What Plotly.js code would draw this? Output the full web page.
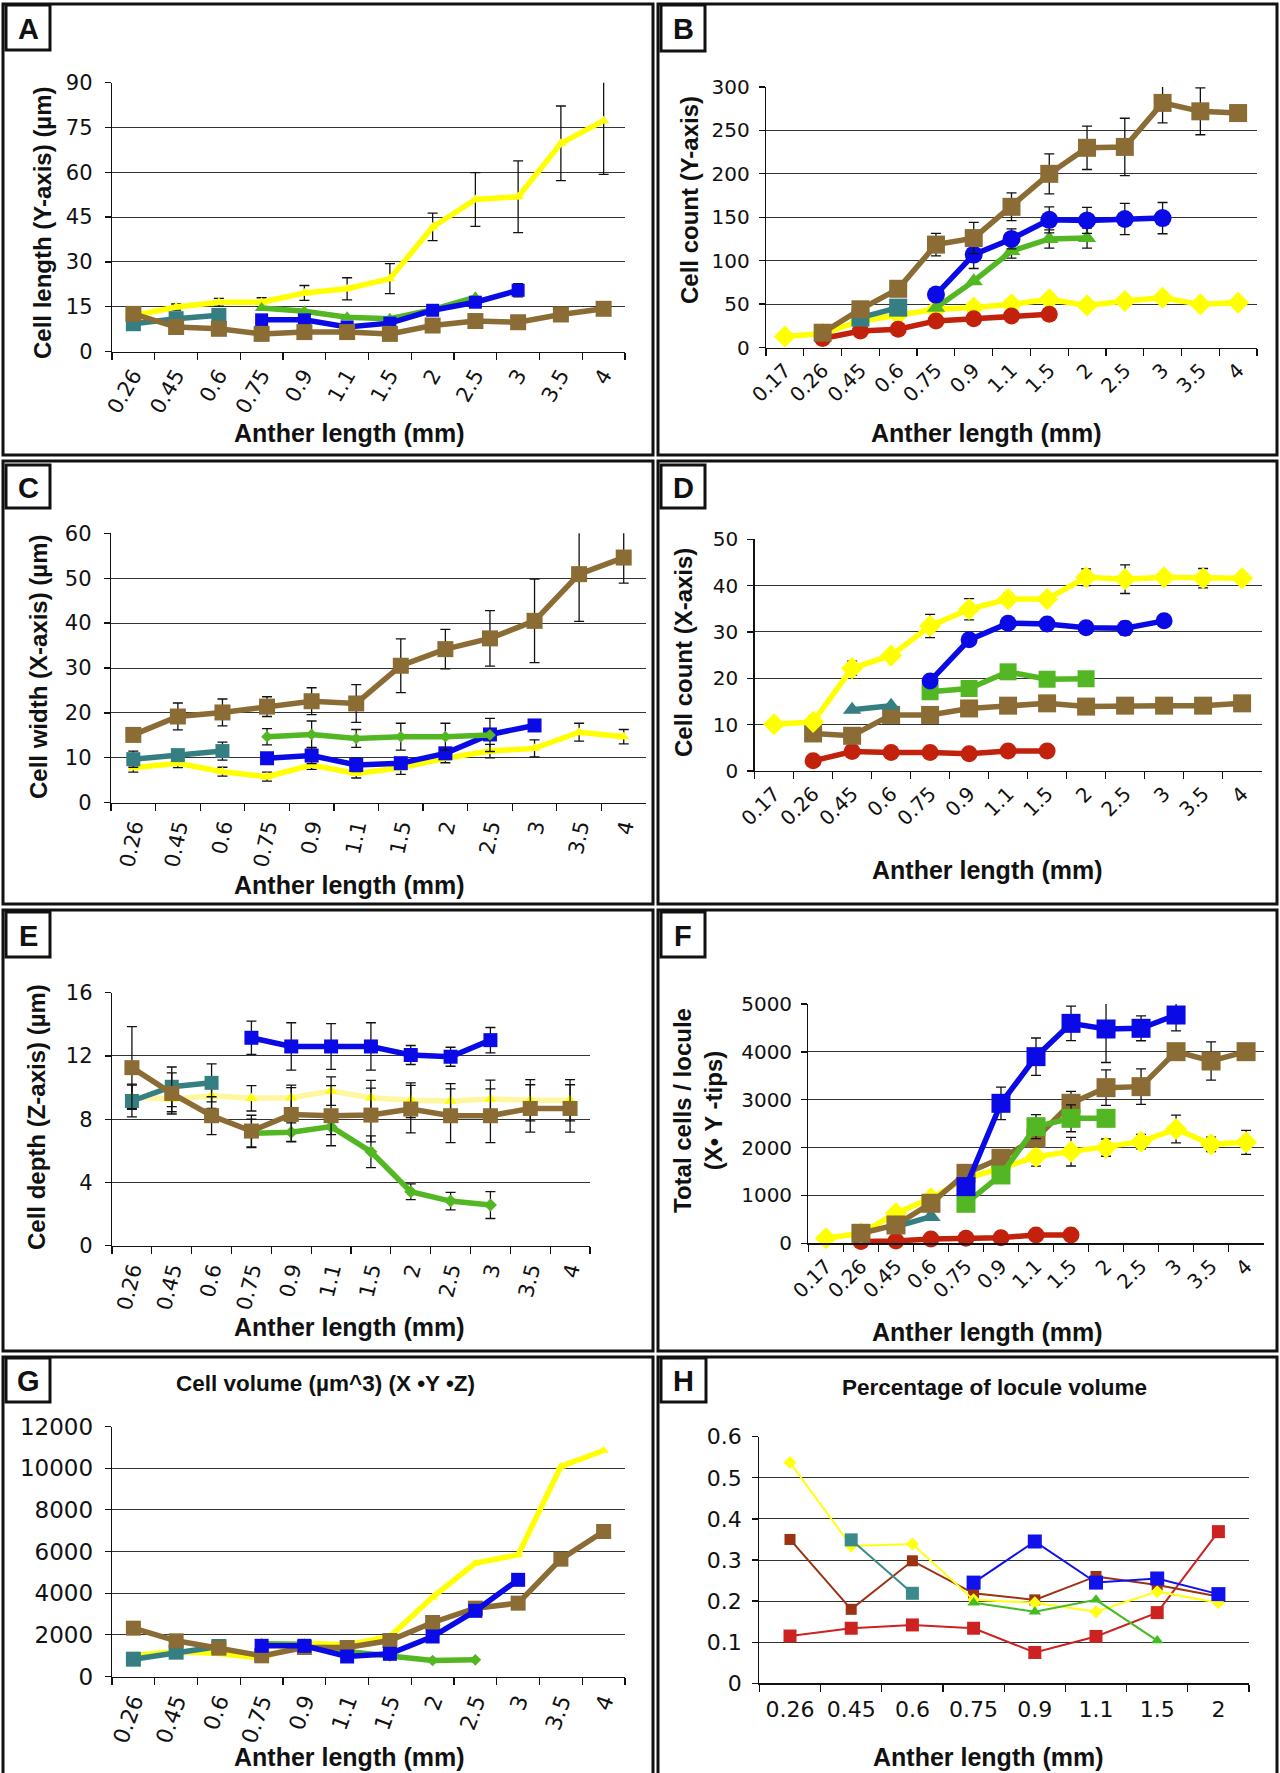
<!DOCTYPE html>
<html><head><meta charset="utf-8">
<script src="https://cdn.plot.ly/plotly-3.0.1.min.js"></script>
<style>html,body{margin:0;padding:0;background:#fff;} #chart{width:1280px;height:1773px;}</style>
</head><body><div id="chart"></div>
<script>
// ---------- categories (anther length, mm) ----------
const cats12 = ['0.26','0.45','0.6','0.75','0.9','1.1','1.5','2','2.5','3','3.5','4'];
const cats13 = ['0.17','0.26','0.45','0.6','0.75','0.9','1.1','1.5','2','2.5','3','3.5','4'];
const cats8  = ['0.26','0.45','0.6','0.75','0.9','1.1','1.5','2'];

// ---------- A: Cell length (Y-axis) ----------
const A_yellow     = [12, 14.9, 16.5, 16.5, 19.6, 21, 24.4, 41.7, 50.9, 51.8, 69.7, 77.3];
const A_yellow_err = [null, 1, 1.3, 1.5, 2.5, 3.7, 5, 4.6, 9, 12, 12.5, 18];
const A_green      = [null, null, null, 14.6, 13.5, 11.5, 11, 14, 18.2, null, null, null];
const A_blue       = [null, null, null, 10.6, 10.6, 8.2, 9.5, 13.8, 16.5, 20.5, null, null];
const A_blue_err   = [null, null, null, 1, 1.5, 1.2, 1.2, 1.5, 1.5, 2.2, null, null];
const A_teal       = [9.3, 11, 12.1, null, null, null, null, null, null, null, null, null];
const A_brown      = [12.6, 8.2, 7.6, 5.9, 6.5, 6.5, 5.9, 8.7, 10.2, 9.8, 12.4, 14.3];

// ---------- B: Cell count (Y-axis) ----------
const B_yellow     = [12.6, 16, 30.6, 38, 44, 46, 49.7, 55.4, 48.5, 53.5, 57.3, 49.7, 51.6];
const B_yellow_err = [null, null, null, null, null, null, null, 6, null, null, 5, null, null];
const B_red        = [null, 10.3, 19, 21, 30.6, 33.2, 36.3, 38.2, null, null, null, null, null];
const B_teal       = [null, null, 34.4, 45.9, null, null, null, null, null, null, null, null, null];
const B_green      = [null, null, null, null, 45.9, 76.4, 111, 125, 126, null, null, null, null];
const B_green_err  = [null, null, null, null, null, null, 8, 10.5, 11.5, null, null, null, null];
const B_blue       = [null, null, null, null, 61, 107, 125, 147, 146.4, 148, 149, null, null];
const B_blue_err   = [null, null, null, null, null, 16, 11.5, 15, 15, 18, 18, null, null];
const B_brown      = [null, 17, 44, 67.6, 118.5, 126, 162, 200, 230, 231, 281.7, 272, 270];
const B_brown_err  = [null, null, null, null, 13, 18, 16, 23, 25, 33, 23, 27, null];

// ---------- C: Cell width (X-axis) ----------
const C_yellow     = [7.8, 8.8, 6.9, 5.8, 8.4, 6.5, 7.8, 9.9, 11.5, 12.1, 15.7, 14.7];
const C_yellow_err = [1, 1, 1, 1, 1, 1, 1.5, 1, 1.5, 1.9, 2, 1.6];
const C_teal       = [9.7, 10.6, 11.5, null, null, null, null, null, null, null, null, null];
const C_teal_err   = [1.8, null, 2, null, null, null, null, null, null, null, null, null];
const C_blue       = [null, null, null, 9.9, 10.5, 8.4, 8.8, 11, 15.2, 17.2, null, null];
const C_blue_err   = [null, null, null, 1, 1.8, 1.5, 1.2, 1, 1.2, null, null, null];
const C_green      = [null, null, null, 14.7, 15.2, 14.3, 14.7, 14.7, 15.1, null, null, null];
const C_green_err  = [null, null, null, 1.8, 3, 2, 3, 3, 3.7, null, null, null];
const C_brown      = [15.1, 19.2, 20.1, 21.4, 22.6, 22.1, 30.5, 34.2, 36.6, 40.5, 50.9, 54.6];
const C_brown_err  = [null, 3, 3, 2.2, 3, 4.2, 6, 4.4, 6.2, 9.3, 10.5, 5.7];

// ---------- D: Cell count (X-axis) ----------
const D_red        = [null, 2.2, 4.2, 4, 4, 3.7, 4.3, 4.3, null, null, null, null, null];
const D_brown      = [null, 8.1, 7.6, 12.1, 12.1, 13.5, 14.1, 14.6, 13.9, 14.1, 14.1, 14.1, 14.6];
const D_teal       = [null, null, 13.2, 14.1, null, null, null, null, null, null, null, null, null];
const D_green      = [null, null, null, null, 17.1, 17.8, 21.4, 19.8, 19.9, null, null, null, null];
const D_blue       = [null, null, null, null, 19.4, 28.3, 31.9, 31.7, 30.9, 30.8, 32.4, null, null];
const D_blue_err   = [null, null, null, null, null, null, null, null, null, 1.5, null, null, null];
const D_yellow     = [10.1, 10.6, 22.2, 24.9, 31.3, 34.9, 37.1, 37.1, 41.8, 41.4, 41.8, 41.6, 41.6];
const D_yellow_err = [null, 1.2, 1.5, 1, 2.5, 2.3, 1.2, 1, 1.8, 3.1, 1, 2.1, 0.5];

// ---------- E: Cell depth (Z-axis) ----------
const E_yellow     = [9.42, 9.27, 9.49, 9.32, 9.36, 9.78, 9.36, 9.2, 9.15, 9.27, 9.2, 9.2];
const E_yellow_err = [0.8, 0.8, 0.8, 0.8, 0.8, 0.9, 1.1, 1.1, 1.1, 1.2, 1.3, 1.3];
const E_green      = [null, null, null, 7.1, 7.17, 7.53, 5.94, 3.41, 2.82, 2.57, null, null];
const E_green_err  = [null, null, null, 0.9, 0.6, 0.5, 1.0, 0.5, 0.55, 0.85, null, null];
const E_teal       = [9.15, 10.05, 10.3, null, null, null, null, null, null, null, null, null];
const E_teal_err   = [1, 1.25, 1.2, null, null, null, null, null, null, null, null, null];
const E_brown      = [11.26, 9.63, 8.22, 7.25, 8.3, 8.22, 8.26, 8.64, 8.22, 8.22, 8.68, 8.68];
const E_brown_err  = [2.6, 1.3, 1.2, 1.0, 1.7, 1.9, 1.7, 1.5, 1.7, 1.7, 1.5, 1.5];
const E_blue       = [null, null, null, 13.15, 12.6, 12.6, 12.6, 12.06, 11.95, 13.0, null, null];
const E_blue_err   = [null, null, null, 1.05, 1.5, 1.45, 1.5, 0.6, 0.6, 0.8, null, null];

// ---------- F: Total cells / locule ----------
const F_red        = [null, 40, 49, 90, 104, 118, 174, 174, null, null, null, null, null];
const F_teal       = [null, null, 348, 557, null, null, null, null, null, null, null, null, null];
const F_yellow     = [104, 209, 627, 940, 1358, 1567, 1811, 1915, 1999, 2124, 2389, 2068, 2110];
const F_yellow_err = [null, null, null, null, null, null, 200, 300, 180, 150, 290, 150, 250];
const F_brown      = [null, 209, 383, 836, 1462, 1776, 2194, 2925, 3252, 3273, 4004, 3809, 4004];
const F_brown_err  = [null, null, null, null, null, null, null, 250, 370, 370, 170, 400, 130];
const F_green      = [null, null, null, null, 836, 1428, 2437, 2611, 2611, null, null, null, null];
const F_green_err  = [null, null, null, null, null, null, 250, 280, 100, null, null, null, null];
const F_blue       = [null, null, null, null, 1184, 2925, 3900, 4596, 4478, 4492, 4770, null, null];
const F_blue_err   = [null, null, null, null, null, 340, 390, 360, 700, 260, 330, null, null];

// ---------- G: Cell volume ----------
const G_green  = [null, null, null, 1568, 1550, 1200, 992, 768, 800, null, null, null];
const G_yellow = [1000, 1200, 1106, 880, 1600, 1520, 1920, 3808, 5440, 5840, 10080, 10848];
const G_teal   = [832, 1168, 1440, null, null, null, null, null, null, null, null, null];
const G_brown  = [2320, 1712, 1360, 992, 1392, 1392, 1728, 2592, 3280, 3520, 5632, 6960];
const G_blue   = [null, null, null, 1472, 1472, 960, 1088, 1920, 3152, 4640, null, null];

// ---------- H: Percentage of locule volume ----------
const H_red    = [0.115, 0.134, 0.142, 0.134, 0.075, 0.114, 0.172, 0.369];
const H_brown  = [0.35, 0.18, 0.298, 0.219, 0.203, 0.26, 0.239, 0.211];
const H_yellow = [0.537, 0.334, 0.339, 0.203, 0.196, 0.174, 0.223, 0.196];
const H_green  = [null, null, null, 0.196, 0.174, 0.203, 0.104, null];
const H_teal   = [null, 0.349, 0.219, null, null, null, null, null];
const H_blue   = [null, null, null, 0.245, 0.345, 0.245, 0.255, 0.217];

// ---------- styling ----------
const YEL = '#FFFF00', BRN = '#8A6C34', BLU = '#0A0AE6', GRN = '#52B722', TEAL = '#357F82', RED = '#C2210C';
const TICKFONT = 'DejaVu Sans, Verdana, sans-serif';
const TITLEFONT = 'Liberation Sans, Arial, Helvetica, sans-serif';
const W = 1280, H = 1773;
const px = v => v / W;
const py = v => 1 - v / H;
const LW = 5.5;

function errObj(err) {
  if (!err) return {visible: false};
  return {type: 'data', symmetric: true, array: err.map(v => v == null ? NaN : v),
          visible: true, color: '#111', thickness: 1.3, width: 5};
}
function tr(n, cats, y, color, sym, size, lw, err, lineColor) {
  return {
    type: 'scatter', mode: 'lines+markers', x: cats, y: y,
    xaxis: n === 1 ? 'x' : 'x' + n, yaxis: n === 1 ? 'y' : 'y' + n,
    line: {color: lineColor || color, width: lw},
    marker: {symbol: sym, size: size, color: color, line: {width: 0}},
    error_y: errObj(err), showlegend: false, hoverinfo: 'skip', cliponaxis: false
  };
}

const data = [
  // A
  tr(1, cats12, A_yellow, YEL, 'triangle-up', 10, LW, A_yellow_err),
  tr(1, cats12, A_green, GRN, 'triangle-up', 12, LW, null),
  tr(1, cats12, A_blue, BLU, 'square', 13, LW, A_blue_err),
  tr(1, cats12, A_teal, TEAL, 'square', 15, LW, null),
  tr(1, cats12, A_brown, BRN, 'square', 16, LW, null),
  // B
  tr(2, cats13, B_yellow, YEL, 'diamond', 17, LW, B_yellow_err),
  tr(2, cats13, B_red, RED, 'circle', 17, LW, null),
  tr(2, cats13, B_teal, TEAL, 'square', 18, LW, null),
  tr(2, cats13, B_green, GRN, 'triangle-up', 16, LW, B_green_err),
  tr(2, cats13, B_blue, BLU, 'circle', 18, LW, B_blue_err),
  tr(2, cats13, B_brown, BRN, 'square', 18, LW, B_brown_err),
  // C
  tr(3, cats12, C_yellow, YEL, 'triangle-up', 10, LW, C_yellow_err),
  tr(3, cats12, C_teal, TEAL, 'square', 14, LW, C_teal_err),
  tr(3, cats12, C_blue, BLU, 'square', 14, LW, C_blue_err),
  tr(3, cats12, C_green, GRN, 'diamond', 9, LW, C_green_err),
  tr(3, cats12, C_brown, BRN, 'square', 16, LW, C_brown_err),
  // D
  tr(4, cats13, D_red, RED, 'circle', 17, LW, null),
  tr(4, cats13, D_brown, BRN, 'square', 18, LW, null),
  tr(4, cats13, D_teal, TEAL, 'triangle-up', 16, LW, null),
  tr(4, cats13, D_green, GRN, 'square', 17, LW, null),
  tr(4, cats13, D_blue, BLU, 'circle', 17, LW, D_blue_err),
  tr(4, cats13, D_yellow, YEL, 'diamond', 17, LW, D_yellow_err),
  // E
  tr(5, cats12, E_yellow, YEL, 'triangle-up', 11, LW, E_yellow_err, '#FFF7A0'),
  tr(5, cats12, E_green, GRN, 'diamond', 10, LW, E_green_err),
  tr(5, cats12, E_teal, TEAL, 'square', 14, LW, E_teal_err),
  tr(5, cats12, E_brown, BRN, 'square', 15, LW, E_brown_err),
  tr(5, cats12, E_blue, BLU, 'square', 14, LW, E_blue_err),
  // F
  tr(6, cats13, F_red, RED, 'circle', 17, LW, null),
  tr(6, cats13, F_teal, TEAL, 'triangle-up', 17, LW, null),
  tr(6, cats13, F_yellow, YEL, 'diamond', 17, LW, F_yellow_err),
  tr(6, cats13, F_brown, BRN, 'square', 19, LW, F_brown_err),
  tr(6, cats13, F_green, GRN, 'square', 19, LW, F_green_err),
  tr(6, cats13, F_blue, BLU, 'square', 19, LW, F_blue_err),
  // G
  tr(7, cats12, G_green, GRN, 'diamond', 9, LW, null),
  tr(7, cats12, G_yellow, YEL, 'triangle-up', 9, LW, null),
  tr(7, cats12, G_teal, TEAL, 'square', 15, LW, null),
  tr(7, cats12, G_brown, BRN, 'square', 15, LW, null),
  tr(7, cats12, G_blue, BLU, 'square', 14, LW, null),
  // H
  tr(8, cats8, H_red, '#CC2222', 'square', 13, 2, null),
  tr(8, cats8, H_brown, '#993311', 'square', 11, 2, null),
  tr(8, cats8, H_yellow, '#FFFF11', 'diamond', 10, 2, null),
  tr(8, cats8, H_green, '#44BB22', 'triangle-up', 11, 2, null),
  tr(8, cats8, H_teal, '#3A8A8A', 'square', 13, 2, null),
  tr(8, cats8, H_blue, '#1111EE', 'square', 14, 2, null)
];

// ---------- panel geometry (pixels) ----------
// [x0, x1, yTop, yBottom]
const panels = [
  {n: 1, box: [112, 625, 82.7, 351.5], cats: cats12, yr: [0, 90], dt: 15, ang: -60, fs: 21, so: 8},
  {n: 2, box: [766, 1257, 87, 347.5], cats: cats13, yr: [0, 300], dt: 50, ang: -45, fs: 20, so: 5},
  {n: 3, box: [111, 646, 533.3, 802.7], cats: cats12, yr: [0, 60], dt: 10, ang: -78, fs: 21, so: 8},
  {n: 4, box: [754.6, 1261.6, 539.3, 771], cats: cats13, yr: [0, 50], dt: 10, ang: -45, fs: 20, so: 5},
  {n: 5, box: [112, 590, 992.7, 1245.7], cats: cats12, yr: [0, 16], dt: 4, ang: -76, fs: 21, so: 8},
  {n: 6, box: [808.4, 1263.6, 1004, 1243.3], cats: cats13, yr: [0, 5000], dt: 1000, ang: -45, fs: 20, so: 5},
  {n: 7, box: [112, 625, 1426.5, 1676.5], cats: cats12, yr: [0, 12000], dt: 2000, ang: -70, fs: 22, so: 7},
  {n: 8, box: [759.4, 1249, 1436.7, 1683.3], cats: cats8, yr: [0, 0.6], dt: 0.1, ang: 0, fs: 22, so: 6}
];

const layout = {
  width: W, height: H, margin: {l: 0, r: 0, t: 0, b: 0},
  paper_bgcolor: '#fff', plot_bgcolor: '#fff', showlegend: false,
  shapes: [], annotations: []
};

panels.forEach(p => {
  const xk = p.n === 1 ? 'xaxis' : 'xaxis' + p.n;
  const yk = p.n === 1 ? 'yaxis' : 'yaxis' + p.n;
  const xa = p.n === 1 ? 'x' : 'x' + p.n;
  const ya = p.n === 1 ? 'y' : 'y' + p.n;
  layout[xk] = {
    domain: [px(p.box[0]), px(p.box[1])], anchor: ya,
    type: 'category', categoryorder: 'array', categoryarray: p.cats,
    range: [-0.5, p.cats.length - 0.5], tickson: 'boundaries',
    ticks: 'outside', ticklen: 7, tickwidth: 1.3, tickcolor: '#111',
    showline: true, linecolor: '#111', linewidth: 1.3,
    showgrid: false, zeroline: false, tickangle: p.ang,
    ticklabelstandoff: p.n === 8 ? 6 : 2,
    tickfont: {family: TICKFONT, size: p.fs, color: '#111'}, fixedrange: true
  };
  layout[yk] = {
    domain: [py(p.box[3]), py(p.box[2])], anchor: xa,
    range: p.yr, dtick: p.dt, tick0: 0, tickformat: p.n === 7 ? 'd' : '',
    showgrid: true, gridcolor: '#333', gridwidth: 1,
    ticks: 'outside', ticklen: 6, tickwidth: 1.3, tickcolor: '#111',
    showline: true, linecolor: '#111', linewidth: 1.3, zeroline: false,
    ticklabelstandoff: p.so,
    tickfont: {family: TICKFONT, size: p.n === 7 ? 23 : p.fs, color: '#111'}, fixedrange: true
  };
});

// panel borders
const borders = [[3, 653, 4, 455], [658, 1277, 4, 455], [3, 653, 461, 904], [658, 1277, 461, 904],
                 [3, 653, 910, 1351], [658, 1277, 910, 1351], [3, 653, 1357, 1790], [658, 1277, 1357, 1790]];
borders.forEach(b => layout.shapes.push({type: 'rect', xref: 'paper', yref: 'paper',
  x0: px(b[0]), x1: px(b[1]), y0: py(b[3]), y1: py(b[2]), line: {color: '#111', width: 3}, layer: 'below'}));

// letter boxes
const letters = [['A', 6, 50, 5, 50], ['B', 661, 705, 5, 51], ['C', 6, 50, 465, 508], ['D', 661, 705, 465, 508],
                 ['E', 6, 50, 912, 957], ['F', 661, 705, 912, 957], ['G', 6, 50, 1358, 1402], ['H', 661, 706, 1358, 1402]];
letters.forEach(l => {
  layout.shapes.push({type: 'rect', xref: 'paper', yref: 'paper', x0: px(l[1]), x1: px(l[2]), y0: py(l[4]), y1: py(l[3]),
    line: {color: '#111', width: 3}, fillcolor: '#fff', layer: 'above'});
  layout.annotations.push({text: '<b>' + l[0] + '</b>', xref: 'paper', yref: 'paper',
    x: px((l[1] + l[2]) / 2), y: py((l[3] + l[4]) / 2 + 1), xanchor: 'center', yanchor: 'middle', showarrow: false,
    font: {family: TITLEFONT, size: 29, color: '#111'}});
});

function ann(text, x, y, angle, size) {
  layout.annotations.push({text: '<b>' + text + '</b>', xref: 'paper', yref: 'paper', x: px(x), y: py(y),
    xanchor: 'center', yanchor: 'middle', showarrow: false, textangle: angle || 0,
    font: {family: TITLEFONT, size: size || 24, color: '#111'}});
}
// axis titles
ann('Cell length (Y-axis) (µm)', 42, 223, -90);
ann('Cell count (Y-axis)', 689, 200, -90);
ann('Cell width (X-axis) (µm)', 38, 667, -90);
ann('Cell count (X-axis)', 683, 653, -90);
ann('Cell depth (Z-axis) (µm)', 36, 1117, -90);
ann('Total cells / locule<br>(X• Y -tips)', 698, 1111, -90);
const xt = 'Anther length (mm)';
ann(xt, 349, 433, 0, 25); ann(xt, 986, 433, 0, 25); ann(xt, 349, 885, 0, 25); ann(xt, 987, 870, 0, 25);
ann(xt, 349, 1327, 0, 25); ann(xt, 987, 1332, 0, 25); ann(xt, 349, 1757, 0, 25); ann(xt, 988, 1757, 0, 25);
// panel titles
ann('Cell volume (µm^3) (X •Y •Z)', 325, 1383, 0, 22.5);
ann('Percentage of locule volume', 994, 1387, 0, 22.5);

Plotly.newPlot('chart', data, layout, {staticPlot: true, displayModeBar: false});
</script></body></html>
